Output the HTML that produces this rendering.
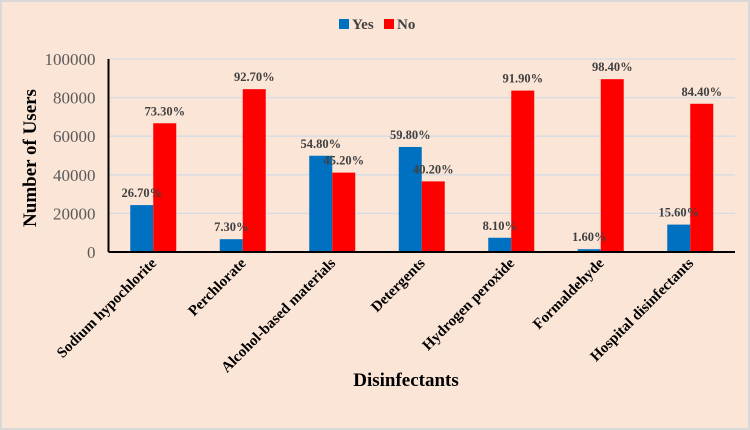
<!DOCTYPE html>
<html><head><meta charset="utf-8"><style>
html,body{margin:0;padding:0;background:#fff}
svg{display:block}
svg text{font-family:"Liberation Serif","Times New Roman",serif}
</style></head><body>
<svg id="chart" width="750" height="430" font-family="Liberation Serif, serif"></svg>
<script>
const categories=["Sodium hypochlorite","Perchlorate","Alcohol-based materials","Detergents","Hydrogen peroxide","Formaldehyde","Hospital disinfectants"];
const yesValues=[24300,6640,49870,54420,7370,1460,14200];
const noValues=[66700,84360,41130,36580,83630,89540,76800];
const yesLabels=["26.70%","7.30%","54.80%","59.80%","8.10%","1.60%","15.60%"];
const noLabels=["73.30%","92.70%","45.20%","40.20%","91.90%","98.40%","84.40%"];
const yTicks=[0,20000,40000,60000,80000,100000];
const NS="http://www.w3.org/2000/svg";
const svg=document.getElementById('chart');
const L=108.5,R=735,T=59,B=252,yMax=100000;
const y=v=>B-(v/yMax)*(B-T);
const band=(R-L)/categories.length;
const cx=i=>L+band*(i+0.5);
const bw=23;
function mk(tag,attrs,parent){const e=document.createElementNS(NS,tag);for(const k in attrs)e.setAttribute(k,attrs[k]);if(tag==='text')e.setAttribute('font-family','Liberation Serif, serif');(parent||svg).appendChild(e);return e;}
let e;
e=mk('rect',{x:1,y:1,width:748,height:428,fill:'#fbe5d6',stroke:'#d9d9d9','stroke-width':2});


yTicks.forEach(t=>{
  if(t>0){e=mk('line',{x1:L,x2:R,y1:y(t),y2:y(t),stroke:'#d6dce5','stroke-width':1.3});
  
  }
  e=mk('text',{x:L-13,y:y(t)+6,'text-anchor':'end','font-size':17,fill:'#595959'});
  e.textContent=t;
  
  
});
categories.forEach((c,i)=>{
  const x=cx(i);
  e=mk('rect',{x:x-bw,y:y(yesValues[i]),width:bw,height:B-y(yesValues[i]),fill:'#0070c0'});
  
  
  e=mk('rect',{x:x,y:y(noValues[i]),width:bw,height:B-y(noValues[i]),fill:'#ff0000'});
  
  
  e=mk('text',{x:x-bw/2,y:y(yesValues[i])-8,'text-anchor':'middle','font-size':12.5,'font-weight':'bold',fill:'#404040'});
  e.textContent=yesLabels[i];
  
  
  e=mk('text',{x:x+bw/2,y:y(noValues[i])-8,'text-anchor':'middle','font-size':12.5,'font-weight':'bold',fill:'#404040'});
  e.textContent=noLabels[i];
  
  
  e=mk('text',{x:x+4,y:B+12,'text-anchor':'end','font-size':15,'font-weight':'bold',fill:'#000',transform:`rotate(-45 ${x+4} ${B+12})`});
  e.textContent=c;
  
  
});
e=mk('line',{x1:L,x2:L,y1:T,y2:B,stroke:'#000','stroke-width':2});


e=mk('line',{x1:L,x2:R,y1:B,y2:B,stroke:'#000','stroke-width':2});


e=mk('text',{x:36,y:158,'text-anchor':'middle','font-size':19,'font-weight':'bold',fill:'#000',transform:'rotate(-90 36 158)'});
e.textContent='Number of Users';


e=mk('text',{x:406,y:386,'text-anchor':'middle','font-size':19,'font-weight':'bold',fill:'#000'});
e.textContent='Disinfectants';


e=mk('rect',{x:339,y:19,width:10,height:10,fill:'#0070c0'});


e=mk('text',{x:352,y:29,'font-size':15,'font-weight':'bold',fill:'#404040'});
e.textContent='Yes';


e=mk('rect',{x:384,y:19,width:10,height:10,fill:'#ff0000'});


e=mk('text',{x:397,y:29,'font-size':15,'font-weight':'bold',fill:'#404040'});
e.textContent='No';


</script>
</body></html>
